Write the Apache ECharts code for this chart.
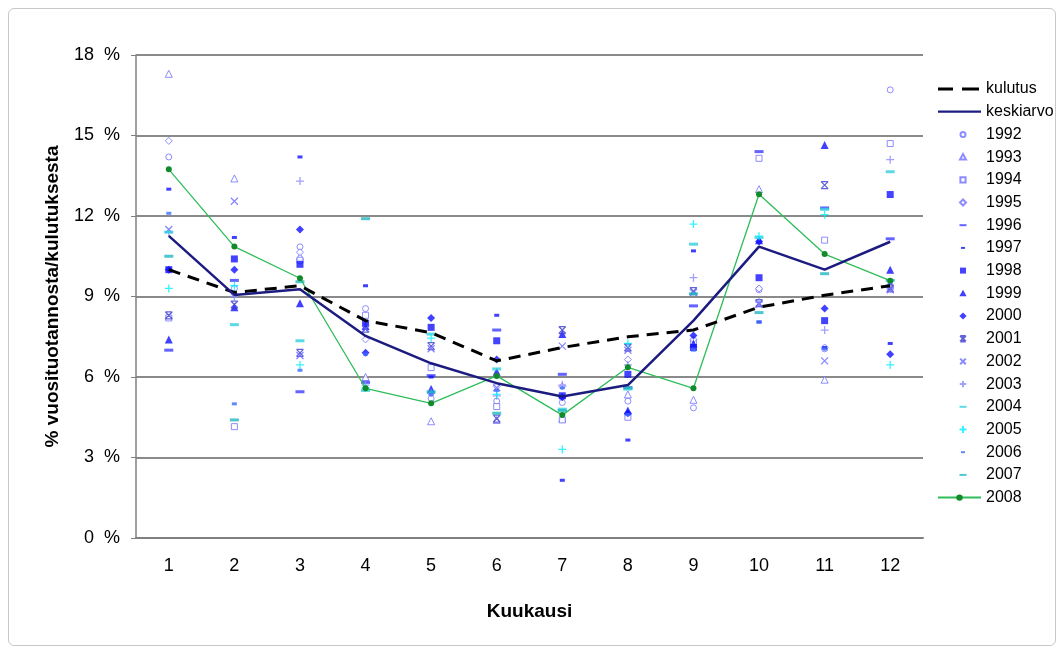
<!DOCTYPE html>
<html>
<head>
<meta charset="utf-8">
<script src="https://cdn.jsdelivr.net/npm/echarts@6/dist/echarts.min.js"></script>
<style>
html,body{margin:0;padding:0;background:#fff;}
#frame{position:absolute;left:8px;top:8px;width:1046px;height:636px;border:1px solid #c8c8c8;border-radius:6px;}
#chart{position:absolute;left:0;top:0;width:1063px;height:651px;}
</style>
</head>
<body>
<div id="frame"></div>
<div id="chart"></div>
<script>
const months = ['1','2','3','4','5','6','7','8','9','10','11','12'];
const yTicks = [0,3,6,9,12,15,18];
const kulutus   = [10.0, 9.15, 9.4, 8.1, 7.65, 6.6, 7.1, 7.5, 7.75, 8.6, 9.05, 9.4];
const keskiarvo = [11.26, 9.06, 9.27, 7.53, 6.51, 5.77, 5.27, 5.7, 8.1, 10.86, 10.0, 11.04];
const y1992 = [14.2, 9.3, 10.85, 8.55, 5.2, 5.1, 5.05, 5.1, 4.85, 9.25, 7.05, 16.7];
const y1993 = [17.3, 13.4, 10.5, 6.0, 4.35, 4.4, 4.45, 5.35, 5.15, 13.0, 5.9, 9.4];
const y1994 = [8.2, 4.15, 10.35, 8.3, 6.35, 4.9, 4.4, 4.5, 7.3, 14.15, 11.1, 14.7];
const y1995 = [14.8, 9.1, 10.65, 7.4, 5.4, 5.65, 5.65, 6.65, 7.4, 9.3, 7.1, 9.35];
const y1996 = [7.0, 9.6, 5.45, 5.8, 6.05, 7.75, 6.1, 5.6, 8.65, 14.4, 12.3, 11.15];
const y1997 = [13.0, 11.2, 14.2, 9.4, 6.0, 8.3, 2.15, 3.65, 10.7, 8.05, 7.1, 7.25];
const y1998 = [10.0, 10.4, 10.2, 8.0, 7.85, 7.35, 5.3, 6.1, 7.1, 9.7, 8.1, 12.8];
const y1999 = [7.4, 8.6, 8.75, 7.9, 5.55, 6.2, 7.6, 4.75, 7.25, 11.1, 14.65, 10.0];
const y2000 = [10.0, 10.0, 11.5, 6.9, 8.2, 6.65, 5.25, 4.65, 7.55, 11.05, 8.55, 6.85];
const y2001 = [8.3, 8.7, 6.9, 7.8, 7.15, 4.45, 7.75, 7.1, 9.2, 8.75, 13.15, 9.3];
const y2002 = [11.5, 12.55, 6.8, 7.8, 7.05, 5.6, 7.15, 7.0, 9.15, 8.7, 6.6, 9.25];
const y2003 = [11.4, 9.0, 13.3, 5.7, 5.4, 5.3, 5.7, 6.45, 9.7, 8.8, 7.75, 14.1];
const y2004 = [11.4, 7.95, 7.35, 5.5, 7.6, 6.3, 4.8, 5.55, 10.95, 11.2, 12.25, 13.65];
const y2005 = [9.3, 9.4, 6.45, 5.6, 7.45, 5.35, 3.3, 7.25, 11.7, 11.25, 12.05, 6.45];
const y2006 = [12.1, 5.0, 6.25, 6.85, 5.35, 5.5, 5.6, 4.6, 7.0, 8.05, 7.05, 9.5];
const y2007 = [10.5, 4.4, 9.55, 11.9, 5.45, 4.65, 4.75, 5.6, 9.1, 8.4, 9.85, 9.6];
const y2008 = [13.74, 10.86, 9.68, 5.58, 5.02, 6.04, 4.58, 6.36, 5.58, 12.81, 10.58, 9.59];

const DASH = 'path://M0,0L10,0L10,3L0,3Z';
const SDASH = 'path://M0,0L10,0L10,4L0,4Z';
const XS = 'path://M0,0L10,10M10,0L0,10';
const PLUS = 'path://M5,0L5,10M0,5L10,5';
const XB = 'path://M0,0L10,0M0,10L10,10M0,0L10,10M10,0L0,10';

// legend icon paths, padded to a fixed 43x8 box so markers keep a small size
const LW = 43, LH = 8, CX = 25, CY = 4;
function pad(d){ return 'path://M0,0M' + LW + ',' + LH + d; }
function fx(v){ return (CX + v).toFixed(2); }
function fy(v){ return (CY + v).toFixed(2); }
const icons = {
  circle: r => `M${fx(-r)},${fy(0)}a${r},${r} 0 1,0 ${2*r},0a${r},${r} 0 1,0 ${-2*r},0Z`,
  tri: s => `M${fx(0)},${fy(-s)}L${fx(s)},${fy(s*0.8)}L${fx(-s)},${fy(s*0.8)}Z`,
  rect: s => `M${fx(-s)},${fy(-s)}L${fx(s)},${fy(-s)}L${fx(s)},${fy(s)}L${fx(-s)},${fy(s)}Z`,
  dia: s => `M${fx(0)},${fy(-s)}L${fx(s)},${fy(0)}L${fx(0)},${fy(s)}L${fx(-s)},${fy(0)}Z`,
  dash: w => `M${fx(-w)},${fy(-1)}L${fx(w)},${fy(-1)}L${fx(w)},${fy(1)}L${fx(-w)},${fy(1)}Z`,
  x: s => `M${fx(-s)},${fy(-s)}L${fx(s)},${fy(s)}M${fx(s)},${fy(-s)}L${fx(-s)},${fy(s)}`,
  xb: s => `M${fx(-s)},${fy(-s)}L${fx(s)},${fy(-s)}M${fx(-s)},${fy(s)}L${fx(s)},${fy(s)}M${fx(-s)},${fy(-s)}L${fx(s)},${fy(s)}M${fx(s)},${fy(-s)}L${fx(-s)},${fy(s)}`,
  plus: s => `M${fx(0)},${fy(-s)}L${fx(0)},${fy(s)}M${fx(-s)},${fy(0)}L${fx(s)},${fy(0)}`
};

function open(name, data, symbol, color, size, icon){
  return {s:{name, type:'scatter', data, symbol, symbolSize:size||7,
    itemStyle:{color:'#fff', borderColor:color, borderWidth:1}, z:3}, icon};
}
function filled(name, data, symbol, color, size, icon){
  return {s:{name, type:'scatter', data, symbol, symbolSize:size||7,
    itemStyle:{color:color, borderWidth:0}, z:3}, icon};
}
function stroke(name, data, symbol, color, size, icon){
  return {s:{name, type:'scatter', data, symbol, symbolSize:size||7,
    itemStyle:{color:'rgba(0,0,0,0)', borderColor:color, borderWidth:1.3}, z:3}, icon};
}

const entries = [
  {s:{name:'kulutus', type:'line', data:kulutus, symbol:'none', z:5,
    lineStyle:{color:'#000', width:3, type:[12,8]}, itemStyle:{color:'#000'}},
   icon: pad('M0,2.5h15v3h-15ZM24,2.5h17v3h-17Z'), iconColor:'#000'},
  {s:{name:'keskiarvo', type:'line', data:keskiarvo, symbol:'none', z:5,
    lineStyle:{color:'#1c1c80', width:2.5}, itemStyle:{color:'#1c1c80'}},
   icon: pad('M0,2.8h46v2.4h-46Z'), iconColor:'#1c1c80'},
  open('1992', y1992, 'circle', '#7070ff', 6, pad(icons.circle(2.5))),
  open('1993', y1993, 'triangle', '#7070ff', 7, pad(icons.tri(3))),
  open('1994', y1994, 'rect', '#7070ff', 6, pad(icons.rect(2.6))),
  open('1995', y1995, 'diamond', '#7070ff', 7, pad(icons.dia(3))),
  filled('1996', y1996, DASH, '#3c3cff', [9,3], pad(icons.dash(3.5))),
  filled('1997', y1997, SDASH, '#1010ff', [5,3], pad(icons.dash(2))),
  filled('1998', y1998, 'rect', '#1414ff', 7, pad(icons.rect(3))),
  filled('1999', y1999, 'triangle', '#1010ff', 8, pad(icons.tri(3.6))),
  filled('2000', y2000, 'diamond', '#1010ff', 8, pad(icons.dia(3.6))),
  stroke('2001', y2001, XB, '#3c3cd0', 7, pad(icons.xb(2.8))),
  stroke('2002', y2002, XS, '#6a6aff', 7, pad(icons.x(2.8))),
  stroke('2003', y2003, PLUS, '#8a8aff', 8, pad(icons.plus(3.2))),
  filled('2004', y2004, DASH, '#33d0dd', [9,3], pad(icons.dash(3.5))),
  stroke('2005', y2005, PLUS, '#00f0ff', 8, pad(icons.plus(3.5))),
  filled('2006', y2006, SDASH, '#3a6cff', [5,3], pad(icons.dash(2))),
  filled('2007', y2007, DASH, '#20b8c0', [9,3], pad(icons.dash(3.5))),
  {s:{name:'2008', type:'line', data:y2008, symbol:'circle', symbolSize:6, z:4,
    lineStyle:{color:'#2ebd5a', width:1.3}, itemStyle:{color:'#118a2a'}}, icon:null}
];
const series = entries.map(e => e.s);
const legendData = entries.map(e => {
  const d = {name:e.s.name};
  if (e.icon) d.icon = e.icon;
  if (e.iconColor) d.itemStyle = {color:e.iconColor, borderWidth:0};
  return d;
});

const chart = echarts.init(document.getElementById('chart'));
chart.setOption({
  animation:false,
  backgroundColor:'transparent',
  grid:{left:136, right:140, top:55, bottom:113},
  legend:{
    orient:'vertical', left:932, top:76, itemGap:6.7, itemWidth:LW, itemHeight:LH,
    textStyle:{fontFamily:'Liberation Sans', fontSize:16, color:'#000'},
    data:legendData
  },
  xAxis:{
    type:'category', data:months, boundaryGap:true,
    axisLine:{lineStyle:{color:'#808080', width:2}},
    axisTick:{show:false},
    axisLabel:{fontFamily:'Liberation Sans', fontSize:18, color:'#000', margin:19},
    name:'Kuukausi', nameLocation:'middle', nameGap:64,
    nameTextStyle:{fontFamily:'Liberation Sans', fontSize:19, fontWeight:'bold', color:'#000'}
  },
  yAxis:{
    type:'value', min:yTicks[0], max:yTicks[yTicks.length-1], interval:3,
    axisLine:{show:true, lineStyle:{color:'#808080', width:1.5}},
    axisTick:{show:true, length:5, lineStyle:{color:'#808080'}},
    splitLine:{lineStyle:{color:'#8a8a8a', width:2}},
    axisLabel:{fontFamily:'Liberation Sans', fontSize:18, color:'#000', margin:16,
      formatter:v=>v+'  %'},
    name:'% vuosituotannosta/kulutuksesta', nameLocation:'middle', nameGap:74,
    nameTextStyle:{fontFamily:'Liberation Sans', fontSize:19, fontWeight:'bold', color:'#000'}
  },
  series
});
</script>
</body>
</html>
